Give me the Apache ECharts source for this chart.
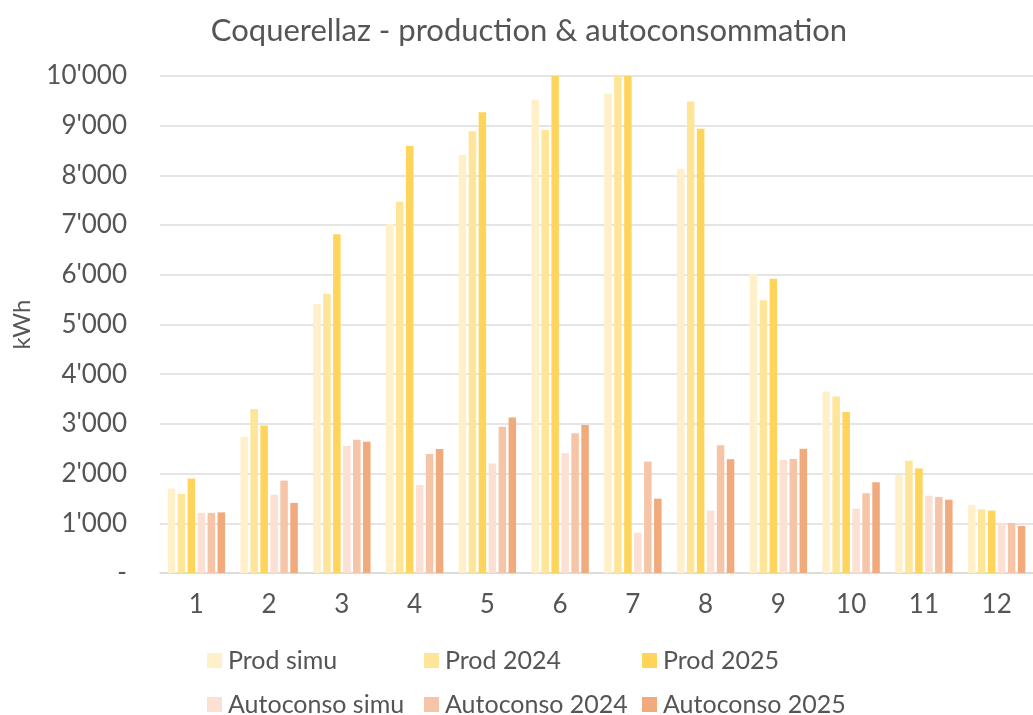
<!DOCTYPE html>
<html>
<head>
<meta charset="utf-8">
<script src="https://cdn.jsdelivr.net/npm/echarts@6/dist/echarts.min.js"></script>
<style>html,body{margin:0;padding:0;background:#fff;}#c{width:1033px;height:715px;}</style>
</head>
<body>
<div id="c"></div>
<script>
const months = ['1','2','3','4','5','6','7','8','9','10','11','12'];
const prodSimu = [1700, 2740, 5410, 7020, 8410, 9520, 9645, 8135, 6010, 3650, 1970, 1370];
const prod2024 = [1590, 3300, 5620, 7470, 8890, 8915, 10300, 9485, 5490, 3550, 2260, 1280];
const prod2025 = [1900, 2970, 6815, 8590, 9270, 10300, 10300, 8940, 5920, 3240, 2105, 1255];
const autoSimu = [1210, 1575, 2555, 1770, 2205, 2410, 810, 1255, 2275, 1295, 1555, 1000];
const auto2024 = [1210, 1860, 2680, 2395, 2945, 2810, 2240, 2570, 2295, 1605, 1530, 1005];
const auto2025 = [1220, 1410, 2640, 2495, 3130, 2980, 1495, 2290, 2500, 1825, 1475, 945];
const yTicks = [0, 1000, 2000, 3000, 4000, 5000, 6000, 7000, 8000, 9000, 10000];

const names = ['Prod simu','Prod 2024','Prod 2025','Autoconso simu','Autoconso 2024','Autoconso 2025'];
const colors = ['#FFF0C9','#FFE597','#FFD45B','#FBE0D3','#F6C4A6','#F0AA7C'];
const datas = [prodSimu, prod2024, prod2025, autoSimu, auto2024, auto2025];
const font = 'Lato, "Open Sans", sans-serif';
const txt = '#555555';

function fmt(v){
  if (v === 0) return '-';
  return String(v).replace(/\B(?=(\d{3})+(?!\d))/g, "'");
}

const legendPos = [
  {left: 202, top: 643}, {left: 419, top: 643}, {left: 637, top: 643},
  {left: 202, top: 687}, {left: 419, top: 687}, {left: 637, top: 687}
];

const chart = echarts.init(document.getElementById('c'));
chart.setOption({
  animation: false,
  textStyle: {fontFamily: font},
  title: {
    text: 'Coquerellaz - production & autoconsommation',
    left: 524, top: 10, textAlign: 'center',
    textStyle: {fontFamily: font, fontSize: 31, fontWeight: 'normal', color: txt}
  },
  legend: names.map((n, i) => ({
    data: [n], left: legendPos[i].left, top: legendPos[i].top,
    itemWidth: 15, itemHeight: 15, itemGap: 7, icon: 'rect',
    textStyle: {fontFamily: font, fontSize: 25, color: txt, padding: [0,0,0,1]}
  })),
  grid: {left: 160, right: -14, top: 76, bottom: 142, containLabel: false},
  xAxis: {
    type: 'category', data: months,
    axisLine: {lineStyle: {color: '#d9d9d9', width: 1.5}},
    axisTick: {show: false},
    axisLabel: {fontFamily: font, fontSize: 26, color: txt, margin: 19}
  },
  yAxis: {
    type: 'value', min: 0, max: 10000, interval: 1000,
    name: 'kWh', nameLocation: 'middle', nameGap: 126, nameRotate: 90,
    nameTextStyle: {fontFamily: font, fontSize: 24, color: txt},
    axisLine: {show: false}, axisTick: {show: false},
    splitLine: {lineStyle: {color: '#dcdcdc', width: 1.5}},
    axisLabel: {
      fontFamily: font, fontSize: 26, color: txt, margin: 33,
      formatter: v => yTicks.includes(v) ? fmt(v) : ''
    }
  },
  series: names.map((n, i) => ({
    name: n, type: 'bar', data: datas[i],
    barWidth: 7.5, barGap: '33%',
    itemStyle: {color: colors[i]},
    clip: true
  }))
});
</script>
</body>
</html>
